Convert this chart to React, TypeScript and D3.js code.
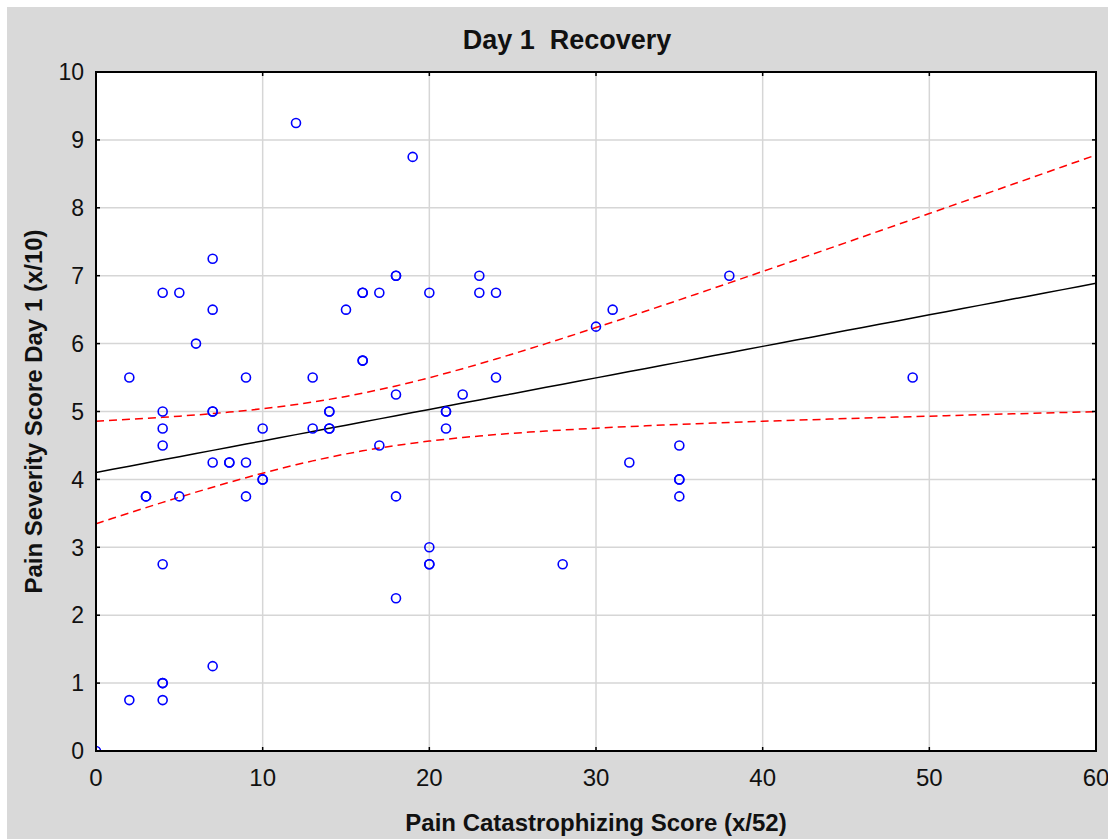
import { line, mean, scaleLinear, sum } from "d3";

// Pain catastrophizing (x) vs pain severity day 1 (y)
const catastrophizing = [
  0, 2, 2, 3, 3, 4, 4, 4, 4, 4, 4, 4, 4, 5, 5, 6, 7, 7, 7, 7, 7, 7, 8, 8, 9, 9, 9,
  10, 10, 10, 12, 13, 13, 14, 14, 14, 14, 15, 16, 16, 16, 16, 17, 17, 18, 18, 18,
  18, 18, 19, 20, 20, 20, 20, 21, 21, 21, 22, 23, 23, 24, 24, 28, 30, 31, 32, 35,
  35, 35, 35, 38, 49,
];
const severity = [
  0, 5.5, 0.75, 3.75, 3.75, 6.75, 5.0, 4.75, 4.5, 2.75, 1.0, 1.0, 0.75, 6.75, 3.75,
  6.0, 7.25, 6.5, 5.0, 5.0, 4.25, 1.25, 4.25, 4.25, 5.5, 4.25, 3.75, 4.75, 4.0,
  4.0, 9.25, 5.5, 4.75, 5.0, 5.0, 4.75, 4.75, 6.5, 6.75, 6.75, 5.75, 5.75, 6.75,
  4.5, 7.0, 7.0, 5.25, 3.75, 2.25, 8.75, 6.75, 3.0, 2.75, 2.75, 5.0, 5.0, 4.75,
  5.25, 7.0, 6.75, 6.75, 5.5, 2.75, 6.25, 6.5, 4.25, 4.5, 4.0, 4.0, 3.75, 7.0, 5.5,
];
const xTicks = [0, 10, 20, 30, 40, 50, 60];
const yTicks = [0, 1, 2, 3, 4, 5, 6, 7, 8, 9, 10];

const W = 1108;
const H = 839;
const left = 96;
const right = 1096;
const top = 72;
const bottom = 751;
const font = "Arial, 'Liberation Sans', sans-serif";

// least squares line with 95% confidence band of the mean
function fit(xs: number[], ys: number[]) {
  const n = xs.length;
  const mx = mean(xs)!;
  const my = mean(ys)!;
  const sxx = sum(xs, (x) => (x - mx) ** 2);
  const sxy = sum(xs, (x, i) => (x - mx) * (ys[i] - my));
  const b = sxy / sxx;
  const a = my - b * mx;
  const sse = sum(xs, (x, i) => (ys[i] - (a + b * x)) ** 2);
  const s = Math.sqrt(sse / (n - 2));
  const t = 1.996;
  const band = (x: number) => t * s * Math.sqrt(1 / n + (x - mx) ** 2 / sxx);
  return { a, b, band };
}

export default function App() {
  const x = scaleLinear().domain([0, 60]).range([left, right]);
  const y = scaleLinear().domain([0, 10]).range([bottom, top]);
  const { a, b, band } = fit(catastrophizing, severity);
  const xs = Array.from({ length: 61 }, (_, i) => i);
  const path = line<number>()
    .x((d) => x(d))
    .y((d) => y(a + b * d));
  const upper = line<number>()
    .x((d) => x(d))
    .y((d) => y(a + b * d + band(d)));
  const lower = line<number>()
    .x((d) => x(d))
    .y((d) => y(a + b * d - band(d)));

  return (
    <svg
      width={W}
      height={H}
      style={{ position: "absolute", left: 0, top: 0 }}
      fontFamily={font}
    >
      <rect x={0} y={0} width={W} height={H} fill="#fff" />
      <rect x={7} y={7} width={W - 7} height={H - 7} fill="#d9d9d9" />
      <defs>
        <clipPath id="plot">
          <rect x={left} y={top} width={right - left} height={bottom - top} />
        </clipPath>
      </defs>
      <rect x={left} y={top} width={right - left} height={bottom - top} fill="#fff" />
      {xTicks.map((t) => (
        <line key={"gx" + t} x1={x(t)} x2={x(t)} y1={top} y2={bottom} stroke="#d6d6d6" strokeWidth={1.5} />
      ))}
      {yTicks.map((t) => (
        <line key={"gy" + t} x1={left} x2={right} y1={y(t)} y2={y(t)} stroke="#d6d6d6" strokeWidth={1.5} />
      ))}
      <g clipPath="url(#plot)">
        <path d={path(xs)!} fill="none" stroke="#000" strokeWidth={1.5} />
        <path d={upper(xs)!} fill="none" stroke="#ff0000" strokeWidth={1.5} strokeDasharray="8 5" />
        <path d={lower(xs)!} fill="none" stroke="#ff0000" strokeWidth={1.5} strokeDasharray="8 5" />
        {catastrophizing.map((c, i) => (
          <circle key={i} cx={x(c)} cy={y(severity[i])} r={4.5} fill="none" stroke="#0000ff" strokeWidth={1.6} />
        ))}
      </g>
      <rect x={left} y={top} width={right - left} height={bottom - top} fill="none" stroke="#000" strokeWidth={2} />
      {xTicks.map((t) => (
        <g key={"tx" + t}>
          <line x1={x(t)} x2={x(t)} y1={bottom} y2={bottom - 4} stroke="#000" strokeWidth={1.5} />
          <line x1={x(t)} x2={x(t)} y1={top} y2={top + 4} stroke="#000" strokeWidth={1.5} />
          <text x={x(t)} y={786} fontSize={24} textAnchor="middle" fill="#111">
            {t}
          </text>
        </g>
      ))}
      {yTicks.map((t) => (
        <g key={"ty" + t}>
          <line x1={left} x2={left + 4} y1={y(t)} y2={y(t)} stroke="#000" strokeWidth={1.5} />
          <line x1={right} x2={right - 4} y1={y(t)} y2={y(t)} stroke="#000" strokeWidth={1.5} />
          <text x={84} y={y(t)} dy="0.36em" fontSize={23} textAnchor="end" fill="#111">
            {t}
          </text>
        </g>
      ))}
      <text x={567} y={49} fontSize={27} fontWeight="bold" textAnchor="middle" fill="#111" style={{ whiteSpace: "pre" }}>
        {"Day 1  Recovery"}
      </text>
      <text x={596} y={831} fontSize={24} fontWeight="bold" textAnchor="middle" fill="#111">
        Pain Catastrophizing Score (x/52)
      </text>
      <text
        transform={`translate(42, ${(top + bottom) / 2}) rotate(-90)`}
        fontSize={24}
        fontWeight="bold"
        textAnchor="middle"
        fill="#111"
      >
        Pain Severity Score Day 1 (x/10)
      </text>
    </svg>
  );
}
